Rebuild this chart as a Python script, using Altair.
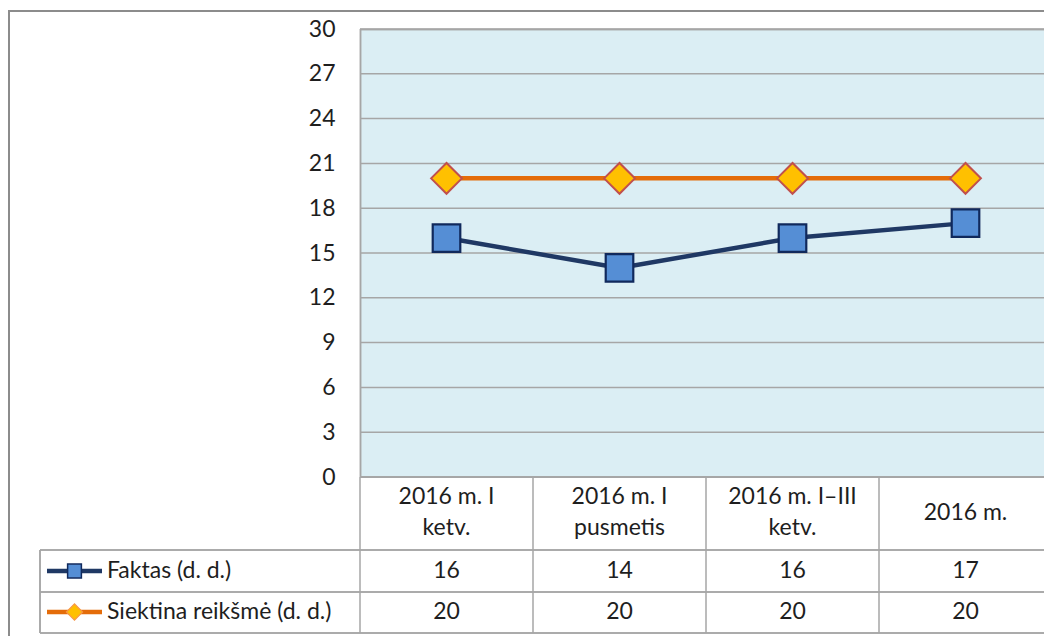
import altair as alt
import pandas as pd

categories = ["2016 m. I ketv.", "2016 m. I pusmetis", "2016 m. I–III ketv.", "2016 m."]
cat_labels = ["2016 m. I\nketv.", "2016 m. I\npusmetis", "2016 m. I–III\nketv.", "2016 m."]
faktas = [16, 14, 16, 17]
siektina = [20, 20, 20, 20]
series_names = ["Faktas (d. d.)", "Siektina reikšmė (d. d.)"]
y_ticks = list(range(0, 31, 3))

FONT = "Lato"
FS = 23
VIEW_W = 684          # visible part of the plot area (page is cut at the right)
W, H = 692, 448       # full extent of the plot area / table
GRID = "#A6A6A6"
TXT = "#1e1e1e"

df = pd.DataFrame({
    "cat": categories * 2,
    "series": [series_names[0]] * 4 + [series_names[1]] * 4,
    "value": faktas + siektina,
})
cats_df = pd.DataFrame({"cat": categories, "label": cat_labels})
leg_df = pd.DataFrame({"series": series_names})
tick_df = pd.DataFrame({"value": y_ticks})

xscale = alt.Scale(domain=categories, paddingInner=0, paddingOuter=0, range=[0, W])
yscale = alt.Scale(domain=[0, 30], nice=False)
X = alt.X("cat:N", scale=xscale, sort=categories, axis=None)
Y = alt.Y("value:Q", scale=yscale,
          axis=alt.Axis(values=y_ticks, title=None, grid=False,
                        domain=False, ticks=False, labelPadding=25, labelFontSize=FS,
                        labelFont=FONT, labelColor=TXT))

base = alt.Chart(df)

bg = alt.Chart(leg_df).mark_rect(fill="#DBEEF4", stroke=None).encode(
    x=alt.value(0), x2=alt.value(W), y=alt.value(0), y2=alt.value(H))

gridlines = alt.Chart(tick_df).mark_rule(color=GRID, strokeWidth=1.5).encode(
    y=Y, x=alt.value(0), x2=alt.value(W))

f_line = base.transform_filter(alt.datum.series == series_names[0]).mark_line(
    color="#1F3864", strokeWidth=4.5).encode(x=X, y=Y)
f_pts = base.transform_filter(alt.datum.series == series_names[0]).mark_point(
    shape="square", size=760, filled=True, fill="#558ED5", stroke="#10295C",
    strokeWidth=2.2, opacity=1).encode(x=X, y=Y)
s_line = base.transform_filter(alt.datum.series == series_names[1]).mark_line(
    color="#E46C0A", strokeWidth=4.5).encode(x=X, y=Y)
s_pts = base.transform_filter(alt.datum.series == series_names[1]).mark_point(
    shape="diamond", size=950, filled=True, fill="#FFC000", stroke="#C0504D",
    strokeWidth=2, opacity=1).encode(x=X, y=Y)

# table: category labels
cat_text2 = alt.Chart(cats_df).transform_filter(
    "indexof(datum.label, '\\n') >= 0").mark_text(
    font=FONT, fontSize=FS, color=TXT, lineBreak="\n", lineHeight=31, baseline="middle"
).encode(x=X, y=alt.value(468), text="label:N")
cat_text1 = alt.Chart(cats_df).transform_filter(
    "indexof(datum.label, '\\n') < 0").mark_text(
    font=FONT, fontSize=FS, color=TXT, baseline="middle"
).encode(x=X, y=alt.value(484), text="label:N")

# table: values
val_f = base.transform_filter(alt.datum.series == series_names[0]).mark_text(
    font=FONT, fontSize=FS, color=TXT, baseline="middle").encode(x=X, y=alt.value(542), text="value:Q")
val_s = base.transform_filter(alt.datum.series == series_names[1]).mark_text(
    font=FONT, fontSize=FS, color=TXT, baseline="middle").encode(x=X, y=alt.value(583), text="value:Q")

# table lines
vlines = alt.Chart(cats_df).mark_rule(color=GRID, strokeWidth=1.5).encode(
    x=alt.X("cat:N", scale=xscale, sort=categories, axis=None, bandPosition=0),
    y=alt.value(H), y2=alt.value(604))
plot_left = alt.Chart(leg_df).mark_rule(color=GRID, strokeWidth=1.5).encode(
    x=alt.value(0.5), y=alt.value(0), y2=alt.value(H))
plot_top = alt.Chart(leg_df).mark_rule(color=GRID, strokeWidth=1.5).encode(
    x=alt.value(0), x2=alt.value(W), y=alt.value(0.5))
hl0 = alt.Chart(leg_df).mark_rule(color=GRID, strokeWidth=1.5).encode(
    x=alt.value(0), x2=alt.value(W), y=alt.value(H))
hl1 = alt.Chart(leg_df).mark_rule(color=GRID, strokeWidth=1.5).encode(
    x=alt.value(-320), x2=alt.value(W), y=alt.value(521))
hl2 = alt.Chart(leg_df).mark_rule(color=GRID, strokeWidth=1.5).encode(
    x=alt.value(-320), x2=alt.value(W), y=alt.value(563))
hl3 = alt.Chart(leg_df).mark_rule(color=GRID, strokeWidth=1.5).encode(
    x=alt.value(-320), x2=alt.value(W), y=alt.value(604))
lv = alt.Chart(leg_df).mark_rule(color=GRID, strokeWidth=1.5).encode(
    x=alt.value(-320), y=alt.value(521), y2=alt.value(604))

# legend keys in table
lk_f_line = alt.Chart(leg_df).transform_filter(alt.datum.series == series_names[0]).mark_rule(
    color="#1F3864", strokeWidth=4.5).encode(x=alt.value(-313), x2=alt.value(-258), y=alt.value(542))
lk_f_pt = alt.Chart(leg_df).transform_filter(alt.datum.series == series_names[0]).mark_point(
    shape="square", size=190, filled=True, fill="#558ED5", stroke="#10295C", strokeWidth=1.5,
    opacity=1).encode(x=alt.value(-285.5), y=alt.value(542))
lk_s_line = alt.Chart(leg_df).transform_filter(alt.datum.series == series_names[1]).mark_rule(
    color="#E46C0A", strokeWidth=4.5).encode(x=alt.value(-313), x2=alt.value(-258), y=alt.value(583))
lk_s_pt = alt.Chart(leg_df).transform_filter(alt.datum.series == series_names[1]).mark_point(
    shape="diamond", size=260, filled=True, fill="#FFC000", stroke="#F79646", strokeWidth=1.2,
    opacity=1).encode(x=alt.value(-285.5), y=alt.value(583))
lk_text_f = alt.Chart(leg_df).transform_filter(alt.datum.series == series_names[0]).mark_text(
    font=FONT, fontSize=FS, color=TXT, align="left", baseline="middle").encode(
    x=alt.value(-253), y=alt.value(542), text="series:N")
lk_text_s = alt.Chart(leg_df).transform_filter(alt.datum.series == series_names[1]).mark_text(
    font=FONT, fontSize=FS, color=TXT, align="left", baseline="middle").encode(
    x=alt.value(-253), y=alt.value(583), text="series:N")

# outer frame (left & top)
frame_l = alt.Chart(leg_df).mark_rule(color="#8C8C8C", strokeWidth=2).encode(
    x=alt.value(-351), y=alt.value(-18), y2=alt.value(700))
frame_t = alt.Chart(leg_df).mark_rule(color="#8C8C8C", strokeWidth=2).encode(
    x=alt.value(-352), x2=alt.value(900), y=alt.value(-18))

chart = alt.layer(
    bg, gridlines, plot_left, plot_top, vlines, s_line, f_line, f_pts, s_pts,
    cat_text2, cat_text1, val_f, val_s,
    hl0, hl1, hl2, hl3, lv,
    lk_f_line, lk_f_pt, lk_s_line, lk_s_pt, lk_text_f, lk_text_s,
    frame_l, frame_t,
).properties(
    width=VIEW_W, height=H,
    padding={"left": 352, "top": 21, "right": 0, "bottom": 159},
    autosize=alt.AutoSizeParams(type="none"),
).configure_view(
    stroke=None
).configure(background="white")

chart.save("out.html", embed_options={"renderer": "svg", "actions": False})
